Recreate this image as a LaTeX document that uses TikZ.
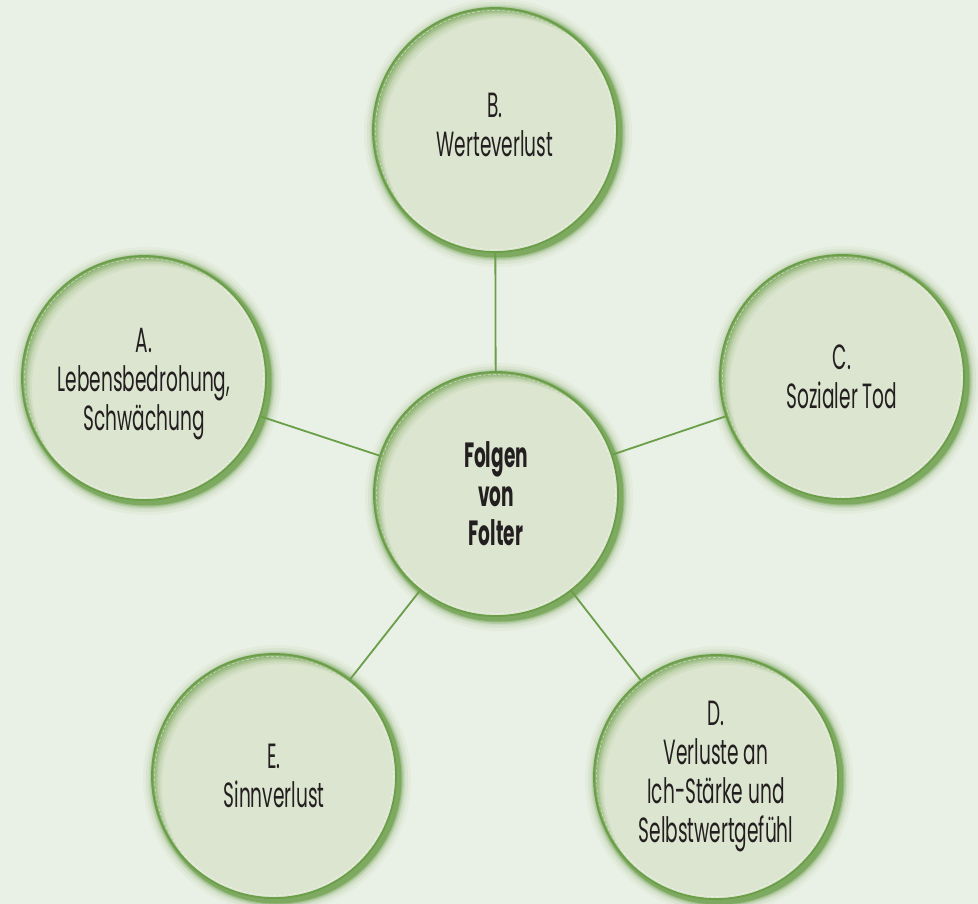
\documentclass[tikz,border=0pt]{standalone}
\usepackage{fontspec}
\setmainfont{Poppins}[FakeStretch=0.53]
\usetikzlibrary{backgrounds}
\definecolor{bgcol}{HTML}{E9F0E5}
\definecolor{fillcol}{HTML}{DCE5CF}
\definecolor{rim}{HTML}{6A9E48}
\definecolor{txt}{HTML}{231F20}
\tikzset{
  bubble/.style={circle, minimum size=244pt, inner sep=0pt, fill=fillcol,
    draw=rim, line width=1.8pt, align=center, text=txt,
    font=\fontsize{35}{39}\selectfont,
    path picture={
      \foreach \d/\o in {1.5/0.35,3/0.3,4.5/0.25,6/0.18,8/0.12,10/0.07}{
        \fill[rim, opacity=\o, even odd rule]
          (path picture bounding box.center) circle (140)
          ([shift={(\d,\d)}]path picture bounding box.center) circle (122);
      }
      \draw[white, opacity=0.6, line width=0.5pt, dash pattern=on 3pt off 2pt]
          (path picture bounding box.center) circle (119.5);
    }},
  lbl/.style={align=center, text=txt, inner sep=0pt, font=\fontsize{35}{39}\selectfont},
  link/.style={draw=rim, line width=1.8pt}
}
\begin{document}
\begin{tikzpicture}[x=1pt,y=-1pt]
\useasboundingbox (0,0) rectangle (978,904);
\node[bubble] (M) at (496,494) {\textbf{Folgen}\\\textbf{von}\\\textbf{Folter}};
\node[bubble] (B) at (495,130) {};
\node[lbl] (Bt) at ([yshift=5pt]B.center) {B.\\Werteverlust};
\node[bubble] (A) at (144,378) {};
\node[lbl] (At) at ([yshift=-6pt]A.center) {A.\\Lebensbedrohung,\\Schwächung};
\node[bubble] (C) at (842,377) {C.\\Sozialer Tod};
\node[bubble] (D) at (716,777) {D.\\Verluste an\\Ich-Stärke und\\Selbstwertgefühl};
\node[bubble] (E) at (274,776) {E.\\Sinnverlust};
\begin{scope}[on background layer]
  \fill[bgcol] (0,0) rectangle (978,904);
  \foreach \n in {M,B,A,C,D,E}{
    \foreach \r/\o in {134/0.05,131/0.08,128.5/0.12,127/0.2,125.5/0.35,124.5/0.6}{
      \fill[rim, opacity=\o] ([shift={(3,3)}]\n.center) circle (\r);
    }
  }
  \draw[link] (M) -- (B);
  \draw[link] (M) -- (A);
  \draw[link] (M) -- (C);
  \draw[link] (M) -- (D);
  \draw[link] (M) -- (E);
\end{scope}
\end{tikzpicture}
\end{document}
